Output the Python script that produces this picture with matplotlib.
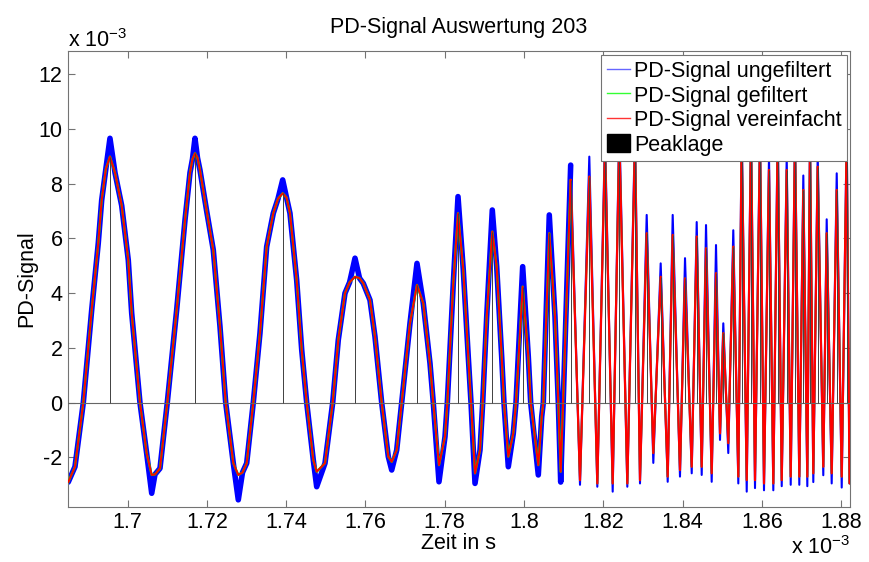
import numpy as np
import matplotlib
matplotlib.use("Agg")
import matplotlib.pyplot as plt
from matplotlib.lines import Line2D
from matplotlib.patches import Patch

plt.rcParams['font.family'] = ['Liberation Sans', 'DejaVu Sans']
plt.rcParams['mathtext.default'] = 'regular'

# Zeit in ms (Achse x 10^-3 s) und vereinfachtes PD-Signal (x 10^-3)
zeit = [
    1.68501, 1.68670, 1.68880, 1.69092, 1.69258, 1.69344, 1.69450, 1.69553, 1.69680, 1.69849,
    1.70015, 1.70101, 1.70310, 1.70479, 1.70606, 1.70689, 1.70815, 1.70999, 1.71236, 1.71446,
    1.71572, 1.71635, 1.71698, 1.71761, 1.71824, 1.71993, 1.72160, 1.72329, 1.72473, 1.72665,
    1.72791, 1.72897, 1.73003, 1.73169, 1.73338, 1.73507, 1.73674, 1.73793, 1.73911, 1.74007,
    1.74095, 1.74264, 1.74391, 1.74517, 1.74683, 1.74769, 1.74979, 1.75173, 1.75314, 1.75483,
    1.75600, 1.75736, 1.75850, 1.75945, 1.76114, 1.76240, 1.76409, 1.76576, 1.76662, 1.76788,
    1.76914, 1.77123, 1.77300, 1.77459, 1.77628, 1.77711, 1.77855, 1.78007, 1.78065, 1.78216,
    1.78335, 1.78468, 1.78594, 1.78663, 1.78764, 1.78890, 1.78958, 1.79059, 1.79200, 1.79311,
    1.79437, 1.79495, 1.79604, 1.79730, 1.79798, 1.79967, 1.80109, 1.80169, 1.80361, 1.80447,
    1.80487, 1.80638, 1.80782, 1.80866, 1.80926,
    1.81178, 1.81413, 1.81648, 1.81850, 1.82044, 1.82238, 1.82405, 1.82607, 1.82801, 1.82927,
    1.83096, 1.83263, 1.83449, 1.83626, 1.83752, 1.83936, 1.84063, 1.84232, 1.84358, 1.84484,
    1.84593, 1.84736, 1.84845, 1.84946, 1.85029, 1.85155, 1.85281, 1.85408, 1.85493, 1.85620,
    1.85728, 1.85829, 1.85955, 1.86056, 1.86182, 1.86291, 1.86402, 1.86503, 1.86629, 1.86730,
    1.86838, 1.86947, 1.87048, 1.87149, 1.87217, 1.87300, 1.87411, 1.87552, 1.87638, 1.87764,
    1.87891, 1.88017, 1.88143, 1.88214,
]
signal = [
    -2.90, -2.34, 0.00, 3.39, 5.83, 7.40, 8.55, 8.99, 8.40, 7.20,
    5.21, 3.27, 0.00, -1.85, -2.64, -2.62, -2.40, 0.00, 3.39, 6.67,
    8.40, 8.90, 9.11, 8.95, 8.50, 7.00, 5.58, 2.78, 0.00, -2.21,
    -2.64, -2.55, -2.21, 0.00, 2.54, 5.70, 6.92, 7.45, 7.65, 7.50,
    6.92, 4.48, 1.93, 0.00, -2.09, -2.52, -2.21, 0.00, 2.29, 4.00,
    4.40, 4.60, 4.55, 4.36, 3.75, 2.41, 0.00, -1.97, -2.16, -1.73,
    0.00, 2.90, 4.30, 3.63, 1.44, 0.00, -2.28, -1.24, 0.00, 4.36,
    6.92, 4.85, 1.68, 0.00, -2.58, -1.73, 0.00, 3.14, 6.25, 4.97,
    1.68, 0.00, -1.97, -1.12, 0.00, 4.24, 1.68, 0.00, -2.28, -0.51,
    0.00, 6.19, 3.14, 0.00, -2.52,
    8.14, -2.83, 8.26, -2.95, 9.30, -2.95, 9.70, -2.95, 9.50, -2.83,
    6.19, -1.84, 4.60, -2.70, 6.13, -2.46, 4.54, -2.34, 6.07, -2.34,
    5.64, -2.58, 4.73, -1.12, 2.54, -1.48, 5.70, -2.70, 9.60, -2.83,
    9.80, -2.83, 9.60, -2.95, 8.50, -2.95, 9.70, -2.83, 8.50, -2.70,
    9.60, -2.70, 7.77, -2.70, 9.50, -2.58, 8.62, -2.34, 6.19, -2.58,
    7.77, -2.70, 9.60, -2.95,
]

# Rauschspitzen des ungefilterten Signals an Maxima und Minima
roh_max = [
    9.66, 9.66, 8.14, 5.28, 5.09, 7.53, 7.04, 4.97, 6.86,
    8.68, 8.99, 9.80, 10.2, 10.0, 6.86, 5.09, 6.86, 5.28, 6.60,
    6.49, 5.76, 2.90, 6.30, 10.1, 10.3, 10.1, 9.00, 10.2, 9.00,
    10.1, 8.30, 10.0, 9.10, 6.70, 8.38, 10.0,
]
roh_min = [
    -3.31, -3.55, -3.07, -2.46, -2.89, -2.95, -2.34, -2.64, -2.90,
    -3.00, -3.07, -3.25, -3.07, -2.95, -2.20, -2.89, -2.70, -2.58,
    -2.64, -2.89, -1.36, -1.84, -2.95, -3.25, -3.12, -3.20, -3.20,
    -3.05, -3.00, -3.00, -3.05, -2.90, -2.65, -2.95, -3.10,
]

t = np.array(zeit)
y = np.array(signal)
mid = np.arange(1, len(y) - 1)
pk = mid[(y[mid] > y[mid - 1]) & (y[mid] > y[mid + 1])]
tr = mid[(y[mid] < y[mid - 1]) & (y[mid] < y[mid + 1])]

# ungefiltertes Signal: gleicher Verlauf, aber mit Rauschspitzen an den Extrema
y_roh = y.copy()
y_roh[pk] = roh_max[:len(pk)]
y_roh[tr] = roh_min[:len(tr)]

# Grenze zwischen langsamen Schwingungen und dichtem Bereich
split = np.searchsorted(t, 1.8100)
slow = slice(0, split + 1)
dense = slice(split, None)

fig = plt.figure(figsize=(8.7, 5.62), dpi=100)
ax = fig.add_axes([0.07816, 0.0984, 0.89885, 0.8109])

blue = (0, 0, 1)
green = (0, 1, 0)
red = (1, 0, 0)
kw = dict(solid_joinstyle='round', solid_capstyle='round')

# ungefiltert
ax.plot(t[slow], y_roh[slow], color=blue, lw=4.0, zorder=2, **kw)
ax.plot(t[dense], y_roh[dense], color=blue, lw=1.5, zorder=2, **kw)
# gefiltert
ax.plot(t[slow], y[slow], color=green, lw=1.7, zorder=3, **kw)
ax.plot(t[dense], y[dense], color=green, lw=1.3, zorder=3, **kw)
# vereinfacht
ax.plot(t[slow], y[slow], color=red, lw=1.4, zorder=4, **kw)
ax.plot(t[dense], y[dense], color=red, lw=1.6, zorder=4, **kw)

# Peaklage
ax.axhline(0, color='0.4', lw=0.8, zorder=5)
ax.vlines(t[pk], 0, y[pk], color='0.25', lw=0.7, zorder=5)

ax.set_xlim(1.68494, 1.88226)
ax.set_ylim(-3.80, 12.85)
ax.set_xticks([1.70, 1.72, 1.74, 1.76, 1.78, 1.80, 1.82, 1.84, 1.86, 1.88])
ax.set_xticklabels(['1.7', '1.72', '1.74', '1.76', '1.78', '1.8', '1.82', '1.84', '1.86', '1.88'])
ax.set_yticks([-2, 0, 2, 4, 6, 8, 10, 12])
ax.set_yticklabels(['-2', '0', '2', '4', '6', '8', '10', '12'])

fs = 15.5
ax.tick_params(direction='in', top=True, right=True, length=5, width=0.8,
               color='0.45', labelsize=fs, pad=4)
for s in ax.spines.values():
    s.set_color('0.45')
    s.set_linewidth(0.8)

ax.set_title('PD-Signal Auswertung 203', fontsize=fs, pad=13)
ax.set_xlabel('Zeit in s', fontsize=fs, labelpad=0)
ax.set_ylabel('PD-Signal', fontsize=fs, labelpad=1)

ax.text(0.0, 1.0088, 'x 10$^{-3}$', transform=ax.transAxes, fontsize=fs,
        ha='left', va='baseline')
ax.text(1.0, -0.104, 'x 10$^{-3}$', transform=ax.transAxes, fontsize=fs,
        ha='right', va='baseline')

handles = [
    Line2D([], [], color=blue, lw=1.0, alpha=0.6),
    Line2D([], [], color=green, lw=1.0, alpha=0.8),
    Line2D([], [], color=red, lw=1.0, alpha=0.8),
    Patch(facecolor='black', edgecolor='black'),
]
labels = ['PD-Signal ungefiltert', 'PD-Signal gefiltert',
          'PD-Signal vereinfacht', 'Peaklage']
leg = ax.legend(handles, labels, loc='upper right', bbox_to_anchor=(0.996, 0.991),
                borderaxespad=0, fontsize=fs, frameon=True, fancybox=False,
                framealpha=1, edgecolor='0.45', handlelength=1.1,
                handletextpad=0.17, handleheight=0.95, labelspacing=0.13,
                borderpad=0.25)
leg.get_frame().set_linewidth(0.8)
leg.set_zorder(10)

fig.savefig('out.png', dpi=100, facecolor='white')
